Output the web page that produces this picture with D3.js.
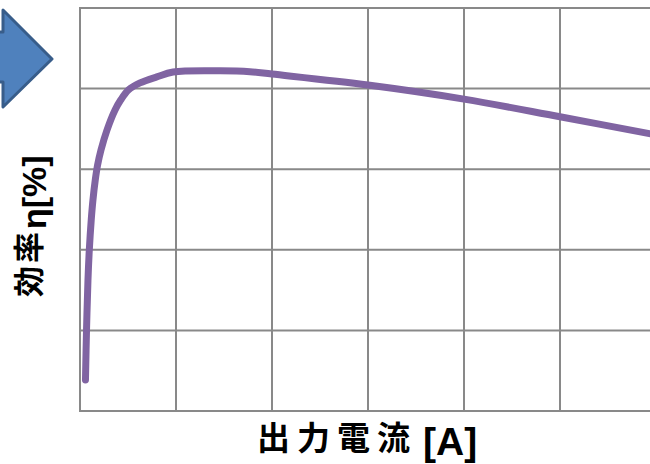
<!DOCTYPE html>
<html>
<head>
<meta charset="utf-8">
<script src="https://cdn.jsdelivr.net/npm/d3@7"></script>
<style>
  body { margin: 0; background: #fff; }
</style>
</head>
<body>
<script>
// output current [A] (grid unit = 1) and efficiency [%]
var current = [0.057, 0.068, 0.083, 0.097, 0.117, 0.135, 0.159, 0.183, 0.219, 0.281, 0.365, 0.422, 0.505, 0.625, 0.80, 0.97, 1.46, 1.77, 2.0, 3.0, 4.0, 5.0, 6.0];
var efficiency = [7.7, 20.1, 32.5, 40.0, 47.4, 52.4, 57.3, 61.0, 64.8, 69.7, 74.7, 77.1, 79.7, 81.4, 82.9, 84.1, 84.4, 84.2, 83.6, 80.9, 77.4, 73.0, 68.5];
var xTicks = [0, 1, 2, 3, 4, 5, 6];
var yTicks = [0, 20, 40, 60, 80, 100];

var svgWidth = 650;
var svgHeight = 464;

var svg = d3.select("body")
    .append("svg")
    .attr("width", svgWidth)
    .attr("height", svgHeight);

var x = d3.scaleLinear().domain([0, 6]).range([80, 656]);
var y = d3.scaleLinear().domain([0, 100]).range([411, 8]);

// grid
svg.append("g")
    .selectAll("line")
    .data(xTicks)
    .enter()
    .append("line")
    .attr("x1", d => x(d)).attr("x2", d => x(d))
    .attr("y1", y(100)).attr("y2", y(0))
    .attr("stroke", "#898989")
    .attr("stroke-width", 2);

svg.append("g")
    .selectAll("line")
    .data(yTicks)
    .enter()
    .append("line")
    .attr("x1", x(0) - 1).attr("x2", x(6))
    .attr("y1", d => y(d)).attr("y2", d => y(d))
    .attr("stroke", "#898989")
    .attr("stroke-width", 2);

// efficiency curve
var line = d3.line()
    .x((d, i) => x(current[i]))
    .y(d => y(d))
    .curve(d3.curveCatmullRom.alpha(0.5));

svg.append("path")
    .attr("d", line(efficiency))
    .attr("fill", "none")
    .attr("stroke", "#8064A2")
    .attr("stroke-width", 7)
    .attr("stroke-linecap", "round")
    .attr("stroke-linejoin", "round");

// blue arrow decoration at top-left
svg.append("path")
    .attr("d", "M-20,32 L3,32 L3,10 L52,59 L3,107 L3,82 L-20,82 Z")
    .attr("fill", "#4F81BD")
    .attr("stroke", "#385D8A")
    .attr("stroke-width", 3)
    .attr("stroke-linejoin", "round");

// axis titles (CJK and latin parts sized separately)
var yTitle = svg.append("text")
    .attr("transform", "translate(40, 297) rotate(-90)")
    .attr("text-anchor", "start")
    .attr("font-weight", "bold")
    .attr("fill", "#000");
yTitle.append("tspan")
    .attr("font-family", "'Noto Sans CJK JP', sans-serif")
    .attr("font-size", "31px")
    .attr("letter-spacing", "3px")
    .text("効率");
yTitle.append("tspan")
    .attr("dy", 6)
    .attr("font-family", "'Liberation Sans', sans-serif")
    .attr("font-size", "34px")
    .text("η[%]");

var xTitle = svg.append("text")
    .attr("x", 257)
    .attr("y", 450)
    .attr("text-anchor", "start")
    .attr("font-weight", "bold")
    .attr("fill", "#000");
xTitle.append("tspan")
    .attr("font-family", "'Noto Sans CJK JP', sans-serif")
    .attr("font-size", "33px")
    .attr("letter-spacing", "7px")
    .text("出力電流");
xTitle.append("tspan")
    .attr("dx", 6)
    .attr("dy", 5)
    .attr("font-family", "'Liberation Sans', sans-serif")
    .attr("font-size", "39px")
    .text("[A]");
</script>
</body>
</html>
